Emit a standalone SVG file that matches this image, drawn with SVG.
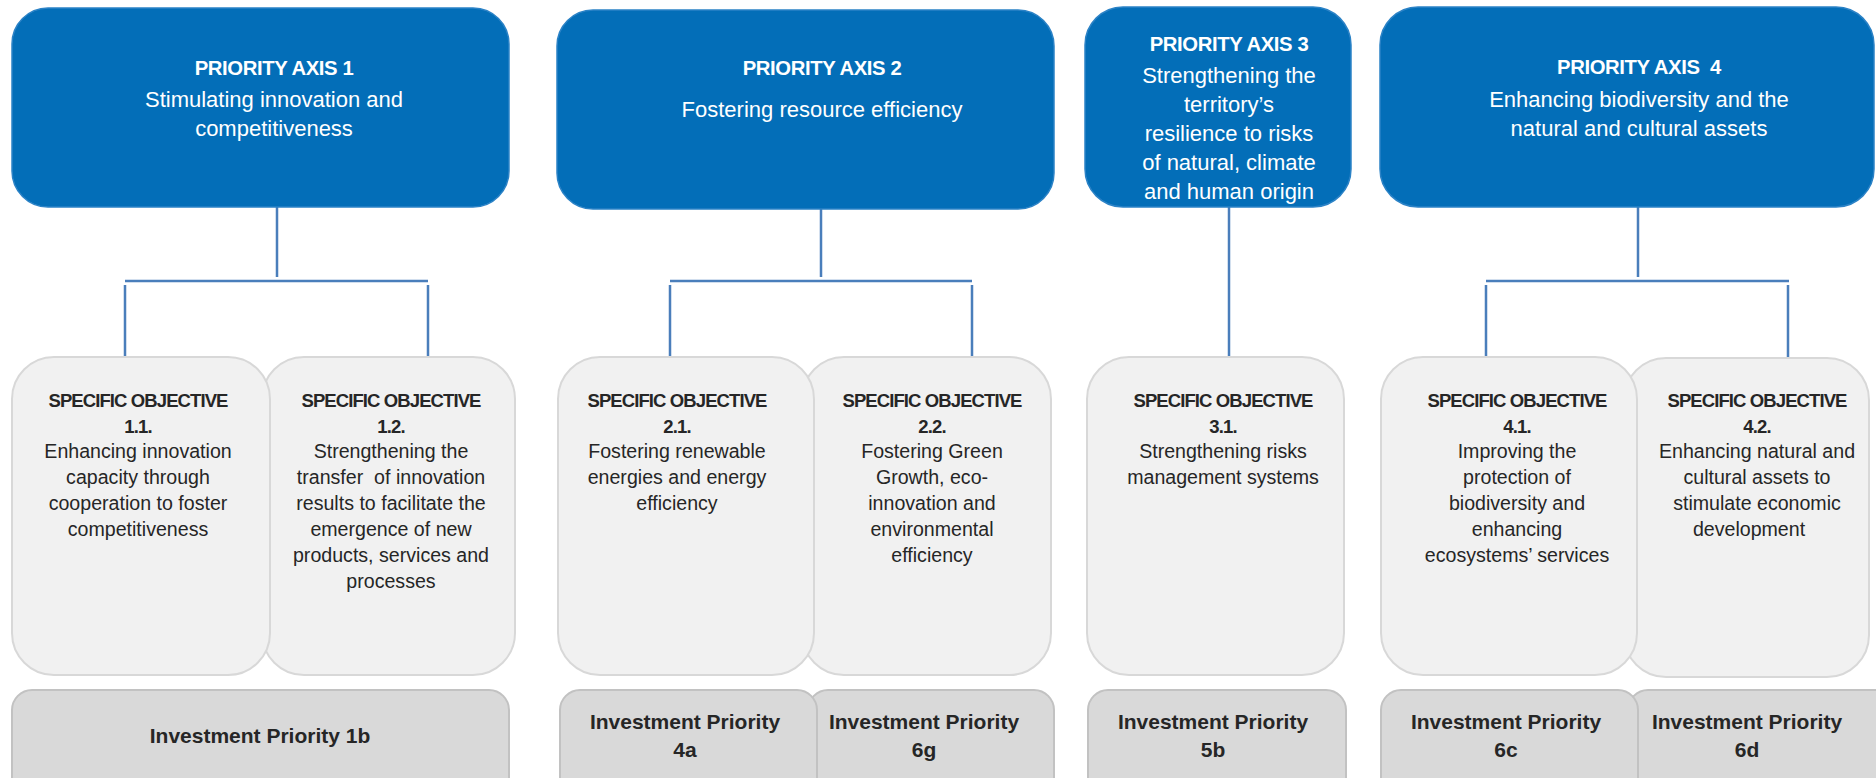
<svg xmlns="http://www.w3.org/2000/svg" width="1876" height="778" viewBox="0 0 1876 778">
<style>
.axis{fill:#036EB8;stroke:#2B82C6;stroke-width:1.5}
.so{fill:#F1F1F1;stroke:#D8D8D8;stroke-width:2}
.ip{fill:#D9D9D9;stroke:#C2C2C2;stroke-width:2}
.at{font-family:"Liberation Sans",Arial,sans-serif;fill:#FFFFFF;text-anchor:middle;font-size:22px}
.ah{font-weight:bold;font-size:20.3px;letter-spacing:-0.4px}
.st{font-family:"Liberation Sans",Arial,sans-serif;fill:#262626;text-anchor:middle;font-size:19.6px}
.sh{font-weight:bold;font-size:18.5px;letter-spacing:-0.9px}
.it{font-family:"Liberation Sans",Arial,sans-serif;fill:#262626;text-anchor:middle;font-size:21px;font-weight:bold}
.c{stroke:#4A7EBB;stroke-width:2.5;fill:none}
</style>
<rect width="1876" height="778" fill="#FFFFFF"/>

<g id="connectors">
<path class="c" d="M277 207V277M125 281H428M125 285V357M428 285V357"/>
<path class="c" d="M821 209V277M670 281H972M670 285V357M972 285V357"/>
<path class="c" d="M1229 207V357"/>
<path class="c" d="M1638 207V277M1486 281H1789M1486 285V357M1788 285V357"/>
</g>

<g id="axis1">
<rect class="axis" x="12" y="8" width="497" height="199" rx="36"/>
<text class="at ah" x="274" y="75">PRIORITY AXIS 1</text>
<text class="at" x="274" y="107">Stimulating innovation and</text>
<text class="at" x="274" y="136">competitiveness</text>
</g>
<g id="axis2">
<rect class="axis" x="557" y="10" width="497" height="199" rx="36"/>
<text class="at ah" x="822" y="75">PRIORITY AXIS 2</text>
<text class="at" x="822" y="117">Fostering resource efficiency</text>
</g>
<g id="axis3">
<rect class="axis" x="1085" y="7" width="266" height="200" rx="38"/>
<text class="at ah" x="1229" y="51">PRIORITY AXIS 3</text>
<text class="at" x="1229" y="83">Strengthening the</text>
<text class="at" x="1229" y="112">territory’s</text>
<text class="at" x="1229" y="141">resilience to risks</text>
<text class="at" x="1229" y="170">of natural, climate</text>
<text class="at" x="1229" y="199">and human origin</text>
</g>
<g id="axis4">
<rect class="axis" x="1380" y="7" width="494" height="200" rx="38"/>
<text class="at ah" x="1639" y="74">PRIORITY AXIS&#160; 4</text>
<text class="at" x="1639" y="107">Enhancing biodiversity and the</text>
<text class="at" x="1639" y="136">natural and cultural assets</text>
</g>

<g id="so12">
<rect class="so" x="262" y="357" width="253" height="318" rx="42"/>
<text class="st sh" x="391" y="407">SPECIFIC OBJECTIVE</text>
<text class="st sh" x="391" y="433">1.2.</text>
<text class="st" x="391" y="458">Strengthening the</text>
<text class="st" x="391" y="484" xml:space="preserve">transfer  of innovation</text>
<text class="st" x="391" y="510">results to facilitate the</text>
<text class="st" x="391" y="536">emergence of new</text>
<text class="st" x="391" y="562">products, services and</text>
<text class="st" x="391" y="588">processes</text>
</g>
<g id="so11">
<rect class="so" x="12" y="357" width="258" height="318" rx="42"/>
<text class="st sh" x="138" y="407">SPECIFIC OBJECTIVE</text>
<text class="st sh" x="138" y="433">1.1.</text>
<text class="st" x="138" y="458">Enhancing innovation</text>
<text class="st" x="138" y="484">capacity through</text>
<text class="st" x="138" y="510">cooperation to foster</text>
<text class="st" x="138" y="536">competitiveness</text>
</g>

<g id="so22">
<rect class="so" x="802" y="357" width="249" height="318" rx="42"/>
<text class="st sh" x="932" y="407">SPECIFIC OBJECTIVE</text>
<text class="st sh" x="932" y="433">2.2.</text>
<text class="st" x="932" y="458">Fostering Green</text>
<text class="st" x="932" y="484">Growth, eco-</text>
<text class="st" x="932" y="510">innovation and</text>
<text class="st" x="932" y="536">environmental</text>
<text class="st" x="932" y="562">efficiency</text>
</g>
<g id="so21">
<rect class="so" x="558" y="357" width="256" height="318" rx="42"/>
<text class="st sh" x="677" y="407">SPECIFIC OBJECTIVE</text>
<text class="st sh" x="677" y="433">2.1.</text>
<text class="st" x="677" y="458">Fostering renewable</text>
<text class="st" x="677" y="484">energies and energy</text>
<text class="st" x="677" y="510">efficiency</text>
</g>

<g id="so31">
<rect class="so" x="1087" y="357" width="257" height="318" rx="42"/>
<text class="st sh" x="1223" y="407">SPECIFIC OBJECTIVE</text>
<text class="st sh" x="1223" y="433">3.1.</text>
<text class="st" x="1223" y="458">Strengthening risks</text>
<text class="st" x="1223" y="484">management systems</text>
</g>

<g id="so42">
<rect class="so" x="1624" y="358" width="245" height="319" rx="42"/>
<text class="st sh" x="1757" y="407">SPECIFIC OBJECTIVE</text>
<text class="st sh" x="1757" y="433">4.2.</text>
<text class="st" x="1757" y="458">Enhancing natural and</text>
<text class="st" x="1757" y="484">cultural assets to</text>
<text class="st" x="1757" y="510">stimulate economic</text>
<text class="st" x="1749" y="536">development</text>
</g>
<g id="so41">
<rect class="so" x="1381" y="357" width="256" height="318" rx="42"/>
<text class="st sh" x="1517" y="407">SPECIFIC OBJECTIVE</text>
<text class="st sh" x="1517" y="433">4.1.</text>
<text class="st" x="1517" y="458">Improving the</text>
<text class="st" x="1517" y="484">protection of</text>
<text class="st" x="1517" y="510">biodiversity and</text>
<text class="st" x="1517" y="536">enhancing</text>
<text class="st" x="1517" y="562">ecosystems’ services</text>
</g>

<g id="ip1b">
<rect class="ip" x="12" y="690" width="497" height="110" rx="20"/>
<text class="it" x="260" y="743">Investment Priority 1b</text>
</g>
<g id="ip6g">
<rect class="ip" x="808" y="690" width="246" height="110" rx="20"/>
<text class="it" x="924" y="729">Investment Priority</text>
<text class="it" x="924" y="757">6g</text>
</g>
<g id="ip4a">
<rect class="ip" x="560" y="690" width="257" height="110" rx="20"/>
<text class="it" x="685" y="729">Investment Priority</text>
<text class="it" x="685" y="757">4a</text>
</g>
<g id="ip5b">
<rect class="ip" x="1088" y="690" width="258" height="110" rx="20"/>
<text class="it" x="1213" y="729">Investment Priority</text>
<text class="it" x="1213" y="757">5b</text>
</g>
<g id="ip6d">
<rect class="ip" x="1628" y="690" width="270" height="110" rx="20"/>
<text class="it" x="1747" y="729">Investment Priority</text>
<text class="it" x="1747" y="757">6d</text>
</g>
<g id="ip6c">
<rect class="ip" x="1381" y="690" width="257" height="110" rx="20"/>
<text class="it" x="1506" y="729">Investment Priority</text>
<text class="it" x="1506" y="757">6c</text>
</g>
</svg>
